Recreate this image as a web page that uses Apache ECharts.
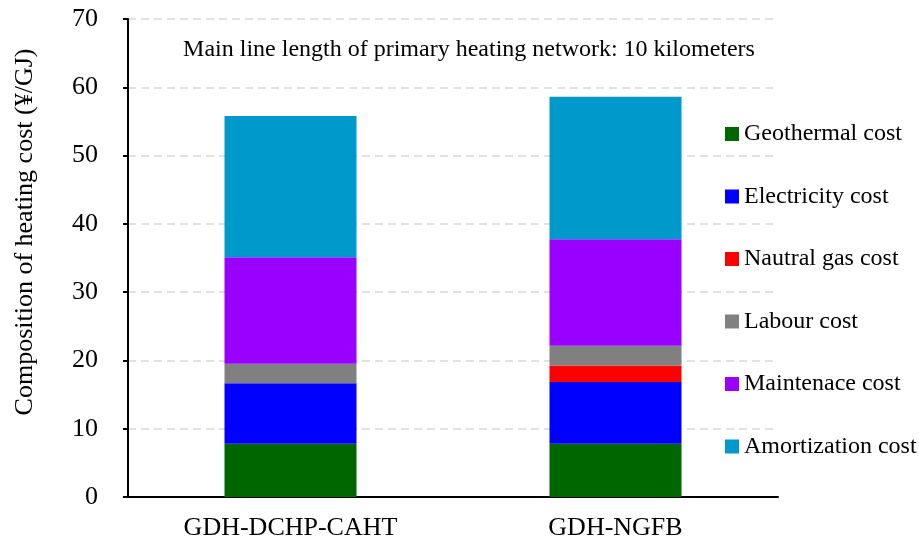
<!DOCTYPE html>
<html>
<head>
<meta charset="utf-8">
<script src="https://cdn.jsdelivr.net/npm/echarts@6/dist/echarts.min.js"></script>
<style>
    html, body {margin: 0; padding: 0; background: #ffffff;}
    #main {width: 919px; height: 542px;}
</style>
</head>
<body>
<div id="main"></div>
<script>
const FONT = '"Times New Roman", "Liberation Serif", serif';

const categories = ['GDH-DCHP-CAHT', 'GDH-NGFB'];
const geothermal = [7.8, 7.8];
const electricity = [8.85, 9.05];
const gas = [0, 2.4];
const labour = [2.85, 2.9];
const maintenance = [15.6, 15.6];
const amortization = [20.7, 20.85];

const seriesNames = ['Geothermal cost', 'Electricity cost', 'Nautral gas cost', 'Labour cost', 'Maintenace cost', 'Amortization cost'];
const seriesData = [geothermal, electricity, gas, labour, maintenance, amortization];
const colors = ['#006600', '#0000ff', '#ff0000', '#808080', '#9900ff', '#0099cc'];

const myChart = echarts.init(document.getElementById('main'));

const option = {
    backgroundColor: '#ffffff',
    animation: false,
    color: colors,
    textStyle: {fontFamily: FONT},
    grid: {
        left: 128,
        right: 141,
        top: 19,
        bottom: 45
    },
    legend: {
        orient: 'vertical',
        left: 720,
        top: 117,
        itemWidth: 14,
        itemHeight: 14,
        itemGap: 38.5,
        icon: 'rect',
        data: seriesNames,
        textStyle: {
            fontFamily: FONT,
            fontSize: 24,
            lineHeight: 24,
            color: '#000000'
        }
    },
    graphic: [{
        type: 'text',
        x: 25,
        y: 232,
        rotation: Math.PI / 2,
        style: {
            text: 'Composition of heating cost (¥/GJ)',
            font: '26px ' + FONT,
            fill: '#000000',
            align: 'center',
            verticalAlign: 'middle'
        }
    }, {
        type: 'text',
        x: 469,
        y: 50,
        style: {
            text: 'Main line length of primary heating network: 10 kilometers',
            font: '24px ' + FONT,
            fill: '#000000',
            align: 'center',
            verticalAlign: 'middle'
        }
    }],
    xAxis: {
        type: 'category',
        data: categories,
        axisLine: {show: true, lineStyle: {color: '#000000', width: 2}},
        axisTick: {show: false},
        axisLabel: {
            color: '#000000',
            fontFamily: FONT,
            fontSize: 26,
            margin: 18
        }
    },
    yAxis: {
        type: 'value',
        min: 0,
        max: 70,
        interval: 10,
        axisLine: {show: true, lineStyle: {color: '#000000', width: 2}},
        axisTick: {show: true, length: 5, lineStyle: {color: '#000000', width: 2}},
        axisLabel: {
            color: '#000000',
            fontFamily: FONT,
            fontSize: 26,
            margin: 30
        },
        splitLine: {
            show: true,
            lineStyle: {color: '#d9d9d9', width: 1.5, type: [8, 5]}
        }
    },
    series: seriesNames.map(function (name, i) {
        return {
            name: name,
            type: 'bar',
            stack: 'cost',
            barWidth: 132,
            data: seriesData[i]
        };
    })
};

myChart.setOption(option);
</script>
</body>
</html>
